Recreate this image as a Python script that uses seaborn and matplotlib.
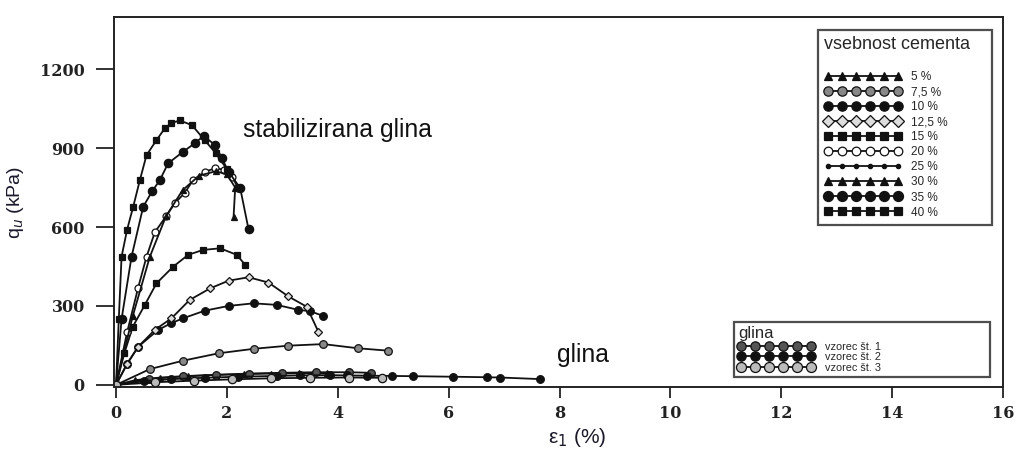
import numpy as np
import pandas as pd
import matplotlib
matplotlib.use("Agg")
import matplotlib.pyplot as plt
from matplotlib.lines import Line2D
import seaborn as sns

# ---------------- data ----------------
x_40 = [0, 0.05, 0.1, 0.2, 0.31, 0.43, 0.55, 0.73, 0.88, 1.0, 1.15, 1.37, 1.6, 1.8, 2.0]
y_40 = [0, 250, 487, 590, 677, 778, 873, 930, 975, 995, 1005, 987, 930, 880, 820]

x_35 = [0, 0.1, 0.28, 0.49, 0.65, 0.79, 0.94, 1.21, 1.42, 1.58, 1.79, 1.91, 2.03, 2.24, 2.39]
y_35 = [0, 250, 487, 677, 735, 778, 842, 886, 918, 946, 911, 861, 810, 748, 592]

x_30 = [0, 0.3, 0.61, 0.9, 1.2, 1.5, 1.8, 2.0, 2.15, 2.12]
y_30 = [0, 260, 487, 640, 740, 795, 812, 800, 750, 637]

x_20 = [0, 0.2, 0.4, 0.55, 0.7, 0.9, 1.06, 1.24, 1.39, 1.6, 1.79, 1.95, 2.1, 2.2]
y_20 = [0, 200, 370, 487, 580, 640, 690, 730, 778, 810, 823, 818, 790, 748]

x_15 = [0, 0.15, 0.3, 0.52, 0.73, 1.03, 1.3, 1.57, 1.88, 2.18, 2.33]
y_15 = [0, 120, 220, 304, 386, 449, 494, 513, 519, 494, 456]

x_125 = [0, 0.2, 0.4, 0.7, 1.0, 1.33, 1.7, 2.03, 2.39, 2.75, 3.11, 3.44, 3.65]
y_125 = [0, 80, 145, 209, 253, 323, 367, 396, 409, 389, 336, 297, 202]

x_10 = [0, 0.2, 0.4, 0.76, 1.0, 1.21, 1.6, 2.03, 2.48, 2.9, 3.29, 3.5, 3.74]
y_10 = [0, 80, 145, 209, 235, 253, 282, 300, 310, 304, 285, 280, 262]

x_75 = [0, 0.61, 1.21, 1.85, 2.48, 3.11, 3.74, 4.37, 4.91]
y_75 = [0, 60, 92, 120, 137, 149, 155, 139, 130]

x_5 = [0, 0.35, 0.8, 1.3, 1.8, 2.3, 2.8, 3.3, 3.8]
y_5 = [0, 18, 28, 34, 38, 41, 43, 44, 44]

x_clay1 = [0, 0.6, 1.2, 1.8, 2.4, 3.0, 3.6, 4.2, 4.6]
y_clay1 = [0, 22, 32, 38, 43, 46, 48, 48, 46]

x_clay2 = [0, 0.5, 1.0, 1.6, 2.2, 2.9, 3.32, 3.86, 4.16, 4.52, 4.97, 5.36, 6.08, 6.69, 6.93, 7.65]
y_clay2 = [0, 14, 22, 27, 31, 34, 36, 37, 36, 35, 34, 33, 31, 29, 28, 22]

x_clay3 = [0, 0.7, 1.4, 2.1, 2.8, 3.5, 4.2, 4.8]
y_clay3 = [0, 10, 16, 21, 25, 27, 28, 27]

cement_labels = ["5 %", "7,5 %", "10 %", "12,5 %", "15 %", "20 %", "25 %", "30 %", "35 %", "40 %"]
clay_labels = ["vzorec št. 1", "vzorec št. 2", "vzorec št. 3"]

xticks = [0, 2, 4, 6, 8, 10, 12, 14, 16]
yticks = [0, 300, 600, 900, 1200]

# ---------------- figure ----------------
sns.set_style("white")
plt.rcParams['font.family'] = ['Liberation Sans', 'DejaVu Sans']

fig = plt.figure(figsize=(10.19, 4.59), dpi=100)
ax = fig.add_axes([0.1119, 0.1569, 0.8724, 0.806])

K = "#111111"
styles = {
    "5 %": dict(marker="^", ms=5, mfc=K, mec=K),
    "7,5 %": dict(marker="o", ms=5.5, mfc="#888888", mec=K),
    "10 %": dict(marker="o", ms=5.5, mfc=K, mec=K),
    "12,5 %": dict(marker="D", ms=4.5, mfc="#dddddd", mec=K),
    "15 %": dict(marker="s", ms=5, mfc=K, mec=K),
    "20 %": dict(marker="o", ms=5, mfc="white", mec=K),
    "25 %": dict(marker=".", ms=5, mfc=K, mec=K),
    "30 %": dict(marker="^", ms=5, mfc=K, mec=K),
    "35 %": dict(marker="o", ms=6, mfc=K, mec=K),
    "40 %": dict(marker="s", ms=5, mfc=K, mec=K),
    "vzorec št. 1": dict(marker="o", ms=5.5, mfc="#555555", mec=K),
    "vzorec št. 2": dict(marker="o", ms=5.5, mfc=K, mec=K),
    "vzorec št. 3": dict(marker="o", ms=6, mfc="#bbbbbb", mec=K),
}

curves = [
    ("5 %", x_5, y_5), ("7,5 %", x_75, y_75), ("10 %", x_10, y_10),
    ("12,5 %", x_125, y_125), ("15 %", x_15, y_15), ("20 %", x_20, y_20),
    ("30 %", x_30, y_30), ("35 %", x_35, y_35), ("40 %", x_40, y_40),
    ("vzorec št. 1", x_clay1, y_clay1), ("vzorec št. 2", x_clay2, y_clay2),
    ("vzorec št. 3", x_clay3, y_clay3),
]
for lab, xs, ys in curves:
    st = styles[lab]
    sns.lineplot(x=xs, y=ys, sort=False, estimator=None, ax=ax, color=K,
                 linewidth=1.3, marker=st["marker"], markersize=st["ms"],
                 markerfacecolor=st["mfc"], markeredgecolor=st["mec"],
                 markeredgewidth=0.9, legend=False)

ax.set_xlim(-0.036, 16)
ax.set_ylim(-8, 1398)
ax.set_xticks(xticks)
ax.set_yticks(yticks)
ax.set_xticklabels([str(t) for t in xticks])
ax.set_yticklabels([str(t) for t in yticks])
for lbl in ax.get_xticklabels() + ax.get_yticklabels():
    lbl.set_fontfamily("DejaVu Serif")
    lbl.set_fontweight("bold")
    lbl.set_fontsize(11.5)
    lbl.set_color("#2a2a2a")
ax.tick_params(axis="x", direction="out", length=8, width=1.3, pad=5, colors="#222222",
               bottom=True, top=False)
ax.tick_params(axis="y", direction="out", length=13, width=1.3, pad=8, colors="#222222",
               left=True, right=False)
for sp in ax.spines.values():
    sp.set_color("#222222")
    sp.set_linewidth(1.4)

ax.set_xlabel("ε$_1$ (%)", fontsize=15, color="#1a1a2a")
ax.xaxis.set_label_coords(0.521, -0.105)
ax.set_ylabel("q$_u$ (kPa)", fontsize=14, color="#1a1a2a", labelpad=10)

ax.text(2.29, 968, "stabilizirana glina", fontsize=17.8, color="#111111", ha="left", va="center")
ax.text(7.95, 114, "glina", fontsize=17.8, color="#111111", ha="left", va="center")

def mk_handle(lab):
    st = styles[lab]
    return Line2D([0], [0], color=K, linewidth=1.3, marker=st["marker"], markersize=st["ms"] + 1.2,
                  markerfacecolor=st["mfc"], markeredgecolor=st["mec"], markeredgewidth=0.9)

leg1 = ax.legend([mk_handle(l) for l in cement_labels], cement_labels,
                 title="vsebnost cementa\n", loc="upper left",
                 bbox_to_anchor=(0.792, 0.446, 0.196, 0.519), mode="expand",
                 numpoints=6, handlelength=6.6, handletextpad=0.8, labelspacing=0.26,
                 fontsize=8.5, title_fontsize=13, frameon=True, fancybox=False,
                 borderpad=0.5, borderaxespad=0, alignment="left")
leg1.get_title().set_linespacing(0.85)
leg1.get_frame().set_edgecolor("#222222")
leg1.get_frame().set_linewidth(1.6)
ax.add_artist(leg1)

leg2 = ax.legend([mk_handle(l) for l in clay_labels], clay_labels,
                 title="glina", loc="upper left",
                 bbox_to_anchor=(0.697, 0.04, 0.288, 0.136), mode="expand",
                 numpoints=6, handlelength=7.0, handletextpad=1.0, labelspacing=0.05,
                 fontsize=7.8, title_fontsize=12, frameon=True, fancybox=False,
                 borderpad=0.4, borderaxespad=0, alignment="left")
leg2.get_frame().set_edgecolor("#222222")
leg2.get_frame().set_linewidth(1.6)

fig.savefig("out.png", dpi=100)
